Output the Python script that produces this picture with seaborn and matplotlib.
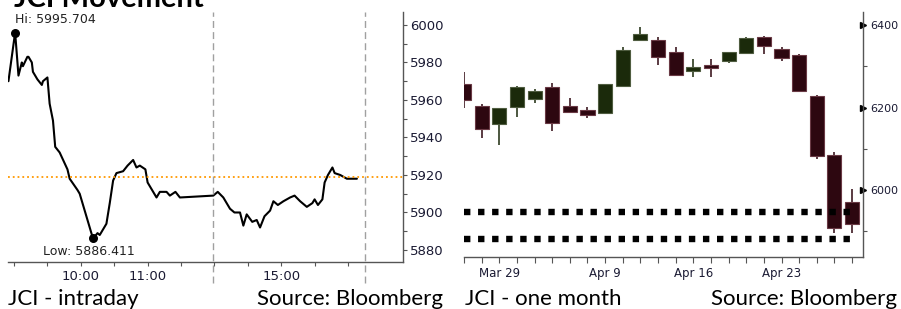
import matplotlib
matplotlib.use('Agg')
import matplotlib.pyplot as plt
import seaborn as sns
import pandas as pd

# Intraday JCI (chart minutes from 09:00, index level)
minutes = [-5, 1, 4, 7, 8, 12, 13, 16, 17, 21, 25, 26, 30, 32, 35, 37, 41, 48, 50, 57,
           59, 64, 68, 71, 75, 77, 83, 86, 89, 92, 98, 102, 107, 110, 113, 118, 120, 125,
           128, 131, 137, 140, 145, 149, 179, 183, 188, 194, 198, 203, 206, 209, 214, 218,
           221, 225, 230, 233, 237, 242, 248, 252, 257, 263, 268, 270, 273, 277, 279, 282,
           286, 288, 293, 299, 308]
intraday = [5970, 5996, 5973, 5980, 5978, 5983, 5983, 5980, 5975, 5971, 5968, 5970, 5972,
            5958, 5949, 5935, 5932, 5923, 5918, 5912, 5910, 5900, 5892, 5886, 5889, 5888,
            5894, 5905, 5917, 5921, 5922, 5925, 5928, 5924, 5925, 5923, 5916, 5911, 5908,
            5911, 5911, 5909, 5911, 5908, 5909, 5911, 5908, 5902, 5900, 5900, 5893, 5899,
            5895, 5896, 5892, 5898, 5901, 5906, 5904, 5906, 5908, 5909, 5906, 5903, 5905,
            5907, 5904, 5907, 5916, 5920, 5924, 5921, 5920, 5918, 5918]
prev_close = 5919
hi_val, hi_min = 5995.704, 1
low_val, low_min = 5886.411, 71
time_ticks = [60, 120, 240]
time_labels = ['10:00', '11:00', '15:00']
breaks = [179, 315]

# One month daily candles
days = ['Mar 27', 'Mar 28', 'Mar 29', 'Apr 2', 'Apr 3', 'Apr 4', 'Apr 5', 'Apr 6',
        'Apr 9', 'Apr 10', 'Apr 11', 'Apr 12', 'Apr 13', 'Apr 16', 'Apr 17', 'Apr 18',
        'Apr 19', 'Apr 20', 'Apr 23', 'Apr 24', 'Apr 25', 'Apr 26', 'Apr 27']
opens = [6257, 6204, 6159, 6202, 6221, 6251, 6204, 6193, 6186, 6252, 6364, 6364, 6336,
         6289, 6303, 6313, 6332, 6371, 6342, 6328, 6229, 6085, 5970]
highs = [6287, 6208, 6200, 6253, 6244, 6259, 6223, 6201, 6258, 6348, 6395, 6371, 6348,
         6317, 6317, 6335, 6371, 6374, 6348, 6330, 6230, 6093, 6002]
lows = [6198, 6125, 6109, 6178, 6212, 6144, 6188, 6174, 6185, 6251, 6363, 6303, 6278,
        6273, 6273, 6309, 6331, 6329, 6313, 6237, 6075, 5896, 5895]
closes = [6218, 6147, 6198, 6251, 6239, 6163, 6190, 6181, 6257, 6340, 6378, 6322, 6279,
          6299, 6295, 6334, 6370, 6350, 6320, 6240, 6083, 5907, 5918]
support_levels = [5947, 5881]
date_ticks = ['Mar 29', 'Apr 9', 'Apr 16', 'Apr 23']

sns.set_theme(style='white')
plt.rcParams['font.family'] = ['DejaVu Sans']
tick_col = '#1a1a33'
up_col, down_col = '#1b2a0b', '#2d0710'

fig = plt.figure(figsize=(9.01, 3.09), dpi=100)
W, H = 901, 309

# ---------------- left: intraday ----------------
ax1 = fig.add_axes([8 / W, 1 - 262 / H, 395 / W, 250 / H])
df1 = pd.DataFrame({'minute': minutes, 'level': intraday})
sns.lineplot(data=df1, x='minute', y='level', ax=ax1, color='black', lw=1.5)
ax1.axhline(prev_close, color='#ff9900', ls=':', lw=1.3)
for b in breaks:
    ax1.axvline(b, ymin=-0.084, ymax=1, color='#a0a0a0', ls=(0, (5, 3)), lw=1, clip_on=False)
ax1.scatter([hi_min, low_min], [hi_val, low_val], color='black', s=30, zorder=5)
ax1.text(hi_min, 6003, f'Hi: {hi_val}', fontsize=9, color='#222222', va='center', ha='left')
ax1.text(low_min - 45, 5879, f'Low: {low_val}', fontsize=9, color='#222222', va='center', ha='left')
ax1.set_xlim(-5.4, 349.4)
ax1.set_ylim(5873.6, 6006.9)
ax1.yaxis.tick_right()
ax1.set_yticks([5880, 5900, 5920, 5940, 5960, 5980, 6000])
ax1.set_yticks(range(5890, 6000, 20), minor=True)
ax1.set_xticks(time_ticks)
ax1.set_xticklabels(time_labels)
ax1.set_xticks([t for t in range(0, 301, 30) if t not in time_ticks], minor=True)
ax1.tick_params(axis='y', which='both', right=True, left=False, length=3, width=0.8,
                pad=2, labelsize=9.5, colors='#555555')
ax1.tick_params(axis='x', which='both', bottom=True, length=3, width=0.8, pad=3,
                labelsize=9.5, colors='#555555')
for lab in ax1.get_yticklabels() + ax1.get_xticklabels():
    lab.set_color(tick_col)
ax1.set_xlabel('')
ax1.set_ylabel('')
for s in ['top', 'left']:
    ax1.spines[s].set_visible(False)
for s in ['right', 'bottom']:
    ax1.spines[s].set_color('#555555')
    ax1.spines[s].set_linewidth(1)

# ---------------- right: one month candles ----------------
ax2 = fig.add_axes([464 / W, 1 - 257 / H, 399 / W, 245 / H])
df2 = pd.DataFrame({'day': days, 'open': opens, 'high': highs, 'low': lows, 'close': closes})
df2['pos'] = range(len(df2))
df2['up'] = df2['close'] >= df2['open']
colors = [up_col if u else down_col for u in df2['up']]
edges = ['#4f5c40' if u else '#6a3a45' for u in df2['up']]
ax2.vlines(df2['pos'], df2['low'], df2['high'], colors=colors, lw=1.1, zorder=2)
body_low = df2[['open', 'close']].min(axis=1)
body_h = (df2['close'] - df2['open']).abs()
ax2.bar(df2['pos'], body_h, bottom=body_low, width=0.8, color=colors,
        edgecolor=edges, linewidth=0.8, zorder=3)
for lvl in support_levels:
    ax2.axhline(lvl, color='black', lw=4.6, ls=(0, (1, 1.2)), dash_capstyle='butt', zorder=4,
                xmin=0, xmax=0.975)
ax2.set_xlim(0, 22.62)
ax2.set_ylim(5837, 6432)
ax2.yaxis.tick_right()
ax2.set_yticks([6000, 6200, 6400])
ax2.set_yticks([5900, 6100, 6300], minor=True)
ax2.plot([1, 1, 1], [6000, 6200, 6400], ls='none', marker='>', ms=4.5, color='black',
         transform=ax2.get_yaxis_transform(), clip_on=False)
ax2.set_xticks([days.index(d) for d in date_ticks])
ax2.set_xticklabels(date_ticks)
ax2.set_xticks([i for i in range(len(days)) if days[i] not in date_ticks], minor=True)
ax2.tick_params(axis='y', which='major', right=True, left=False, length=0, pad=5,
                labelsize=8, colors='#555555')
ax2.tick_params(axis='y', which='minor', right=True, left=False, length=3, width=0.8,
                colors='#555555')
ax2.tick_params(axis='x', which='both', bottom=True, length=4, width=0.8, pad=3,
                labelsize=8.5, colors='#555555')
for lab in ax2.get_yticklabels() + ax2.get_xticklabels():
    lab.set_color(tick_col)
for s in ['top', 'left']:
    ax2.spines[s].set_visible(False)
for s in ['right', 'bottom']:
    ax2.spines[s].set_color('#555555')
    ax2.spines[s].set_linewidth(1)

# ---------------- captions ----------------
cap = dict(fontsize=16, color='black', family=['Lato', 'DejaVu Sans'], va='baseline')
fig.text(8 / W, 4 / H, 'JCI - intraday', ha='left', **cap)
fig.text(443 / W, 4 / H, 'Source: Bloomberg', ha='right', **cap)
fig.text(465 / W, 4 / H, 'JCI - one month', ha='left', **cap)
fig.text(897 / W, 4 / H, 'Source: Bloomberg', ha='right', **cap)
fig.text(14 / W, 1 - 7 / H, 'JCI Movement', ha='left', va='baseline', fontsize=21,
         fontweight='bold', family=['Lato', 'DejaVu Sans'], color='black')

fig.savefig('out.png', dpi=100)
